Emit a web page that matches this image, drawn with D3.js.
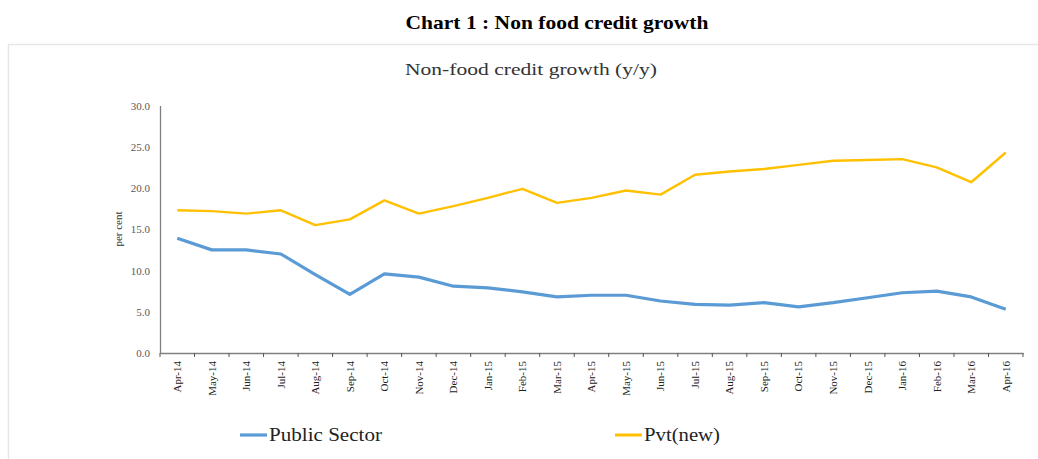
<!DOCTYPE html>
<html><head><meta charset="utf-8">
<script src="https://cdn.jsdelivr.net/npm/d3@7/dist/d3.min.js"></script>
<style>body{margin:0;background:#fff}svg{display:block}</style>
</head><body>
<svg id="c" width="1038" height="459"></svg>
<script>
const categories = ["Apr-14","May-14","Jun-14","Jul-14","Aug-14","Sep-14","Oct-14","Nov-14","Dec-14","Jan-15","Feb-15","Mar-15","Apr-15","May-15","Jun-15","Jul-15","Aug-15","Sep-15","Oct-15","Nov-15","Dec-15","Jan-16","Feb-16","Mar-16","Apr-16"];
const publicSector = [13.9,12.5,12.5,12.0,9.5,7.1,9.6,9.2,8.1,7.9,7.4,6.8,7.0,7.0,6.3,5.9,5.8,6.1,5.6,6.1,6.7,7.3,7.5,6.8,5.3];
const pvtNew = [17.3,17.2,16.9,17.3,15.5,16.2,18.5,16.9,17.8,18.8,19.9,18.2,18.8,19.7,19.2,21.6,22.0,22.3,22.8,23.3,23.4,23.5,22.5,20.7,24.3];
const yTicks = [0,5,10,15,20,25,30];
const seriesNames = ["Public Sector","Pvt(new)"];

const svg = d3.select("#c");
const serif = "'Liberation Serif','Times New Roman',serif";

// outer box
svg.append("path").attr("d","M8.5,459 V44.5 H1038").attr("fill","none").attr("stroke","#e6e6e6").attr("stroke-width",1.5);

svg.append("text").attr("x",557).attr("y",29).attr("text-anchor","middle")
  .attr("font-family",serif).attr("font-weight","bold").attr("font-size",19)
  .attr("textLength",303).attr("lengthAdjust","spacingAndGlyphs")
  .text("Chart 1 : Non food credit growth");
svg.append("text").attr("x",531).attr("y",75).attr("text-anchor","middle")
  .attr("font-family",serif).attr("font-size",17).attr("fill","#333")
  .attr("textLength",252).attr("lengthAdjust","spacingAndGlyphs")
  .text("Non-food credit growth (y/y)");

const x = d3.scaleBand().domain(categories).range([160,1023]);
const y = d3.scaleLinear().domain([0,30]).range([353,105.5]);

const yAxis = svg.append("g").attr("transform","translate(160,0)")
  .call(d3.axisLeft(y).tickValues(yTicks).tickFormat(d3.format(".1f")).tickSize(0).tickPadding(10));
yAxis.select(".domain").attr("stroke","#808080").attr("stroke-width",1.3);
yAxis.selectAll("text").attr("font-family",serif).attr("font-size",11).attr("fill","#595959");

const xAxis = svg.append("g").attr("transform","translate(0,353)")
  .call(d3.axisBottom(x).tickSize(0));
xAxis.select(".domain").attr("stroke","#808080").attr("stroke-width",1.3);
xAxis.selectAll(".tick text").attr("font-family",serif).attr("font-size",11).attr("fill","#222")
  .attr("transform","rotate(-90)").attr("text-anchor","end").attr("dy","0.35em").attr("x",-8).attr("y",0);
// boundary ticks
const bounds = categories.map(c=>x(c)).concat([x.range()[1]]);
xAxis.selectAll(".btick").data(bounds).join("line").attr("class","btick")
  .attr("x1",d=>d).attr("x2",d=>d).attr("y1",0).attr("y2",4).attr("stroke","#555").attr("stroke-width",1);

svg.append("text").attr("transform","translate(122,229) rotate(-90)").attr("text-anchor","middle")
  .attr("font-family",serif).attr("font-size",11).attr("fill","#333").text("per cent");

const cx = c => x(c) + x.bandwidth()/2;
const line = d3.line().x((d,i)=>cx(categories[i])).y(d=>y(d));
svg.append("path").datum(publicSector).attr("d",line).attr("fill","none")
  .attr("stroke","#5B9BD5").attr("stroke-width",3.2).attr("stroke-linejoin","round");
svg.append("path").datum(pvtNew).attr("d",line).attr("fill","none")
  .attr("stroke","#FFC000").attr("stroke-width",2.4).attr("stroke-linejoin","round");

// legend
const leg = [{n:seriesNames[0],c:"#5B9BD5",x:240,w:3.2,tl:113},{n:seriesNames[1],c:"#FFC000",x:615,w:3,tl:76}];
leg.forEach(l=>{
  svg.append("line").attr("x1",l.x).attr("x2",l.x+27).attr("y1",435).attr("y2",435).attr("stroke",l.c).attr("stroke-width",l.w);
  svg.append("text").attr("x",l.x+29).attr("y",441).attr("font-family",serif).attr("font-size",18).attr("fill","#222")
    .attr("textLength",l.tl).attr("lengthAdjust","spacingAndGlyphs").text(l.n);
});
</script>
</body></html>
